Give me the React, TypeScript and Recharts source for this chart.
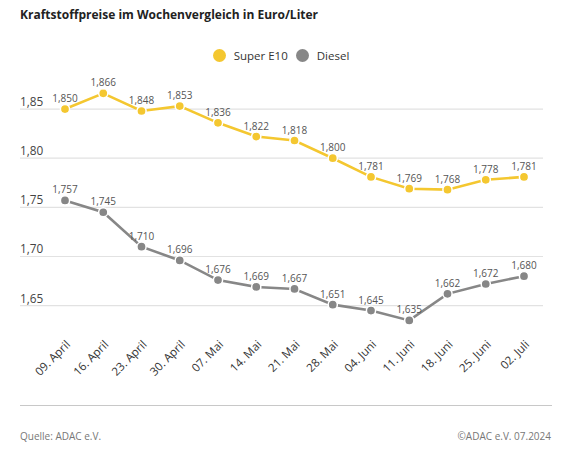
import React from 'react';
import { LineChart, Line, XAxis, YAxis, CartesianGrid, LabelList } from 'recharts';

const dates = ['09. April', '16. April', '23. April', '30. April', '07. Mai', '14. Mai', '21. Mai', '28. Mai', '04. Juni', '11. Juni', '18. Juni', '25. Juni', '02. Juli'];
const superE10 = [1.850, 1.866, 1.848, 1.853, 1.836, 1.822, 1.818, 1.800, 1.781, 1.769, 1.768, 1.778, 1.781];
const diesel = [1.757, 1.745, 1.710, 1.696, 1.676, 1.669, 1.667, 1.651, 1.645, 1.635, 1.662, 1.672, 1.680];
const yTicks = [1.65, 1.70, 1.75, 1.80, 1.85];

const SERIES = [
  { key: 'super', name: 'Super E10', color: '#F4C730' },
  { key: 'diesel', name: 'Diesel', color: '#878787' },
];

const data = dates.map((d, i) => ({ date: d, super: superE10[i], diesel: diesel[i] }));

const FONT = '"Open Sans", "Noto Sans", sans-serif';

const fmt3 = (v: number) => v.toFixed(3).replace('.', ',');
const fmt2 = (v: number) => v.toFixed(2).replace('.', ',');

const YTick = (props: any) => {
  const { x, y, payload } = props;
  return (
    <text x={x} y={y - 3} textAnchor="start" fontSize={11.8} fill="#444" fontFamily={FONT}>
      {fmt2(payload.value)}
    </text>
  );
};

const XTick = (props: any) => {
  const { x, y, payload } = props;
  const ax = x + 6;
  const ay = y + 20;
  return (
    <text x={ax} y={ay} transform={`rotate(-45, ${ax}, ${ay})`} textAnchor="end" fontSize={11.5} fill="#333" fontFamily={FONT}>
      {payload.value}
    </text>
  );
};

const Dot = (color: string) => (props: any) => {
  const { cx, cy, index } = props;
  return <circle key={index} cx={cx} cy={cy} r={4.6} fill={color} stroke="#fff" strokeWidth={1.5} />;
};

export default function App() {
  return (
    <div style={{ position: 'absolute', left: 0, top: 0, width: 567, height: 453, background: '#fff', fontFamily: FONT, overflow: 'hidden' }}>
      <div style={{ position: 'absolute', left: 20, top: 6, fontSize: 12, fontWeight: 700, color: '#222', whiteSpace: 'nowrap' }}>
        Kraftstoffpreise im Wochenvergleich in Euro/Liter
      </div>
      <div style={{ position: 'absolute', left: 0, top: 48, width: 562, display: 'flex', justifyContent: 'center', alignItems: 'center', fontSize: 11.5, color: '#333' }}>
        {SERIES.map((s) => (
          <div key={s.key} style={{ display: 'flex', alignItems: 'center', marginRight: 4, marginLeft: 4 }}>
            <span style={{ display: 'inline-block', width: 13, height: 13, borderRadius: 7, background: s.color, marginRight: 8 }} />
            <span>{s.name}</span>
          </div>
        ))}
      </div>
      <div style={{ position: 'absolute', left: 0, top: 0 }}>
        <LineChart width={567} height={400} data={data} margin={{ top: 89.4, left: 20, right: 24, bottom: 14.7 }}>
          <CartesianGrid horizontal vertical={false} stroke="#e2e2e2" strokeWidth={1.2} syncWithTicks />
          <XAxis dataKey="date" height={60} axisLine={false} tickLine={false} tickSize={0} tickMargin={0} interval={0} padding={{ left: 45, right: 19 }} tick={<XTick />} />
          <YAxis mirror width={40} domain={[1.63, 1.87]} ticks={yTicks} allowDataOverflow axisLine={false} tickLine={false} tickSize={0} tickMargin={0} tick={<YTick />} />
          {SERIES.map((s) => (
            <Line key={s.key} dataKey={s.key} name={s.name} stroke={s.color} strokeWidth={2.6} dot={Dot(s.color)} activeDot={false} isAnimationActive={false}>
              <LabelList dataKey={s.key} position="top" offset={7} formatter={(v: any) => fmt3(Number(v))} style={{ fontSize: 10, fill: '#555', fontFamily: FONT }} />
            </Line>
          ))}
        </LineChart>
      </div>
      <div style={{ position: 'absolute', left: 20, top: 405, width: 532, height: 0, borderTop: '1.5px solid #c8c8c8' }} />
      <div style={{ position: 'absolute', left: 20, top: 429, fontSize: 10, color: '#777' }}>Quelle: ADAC e.V.</div>
      <div style={{ position: 'absolute', right: 16, top: 429, fontSize: 10, color: '#777' }}>©ADAC e.V. 07.2024</div>
    </div>
  );
}
